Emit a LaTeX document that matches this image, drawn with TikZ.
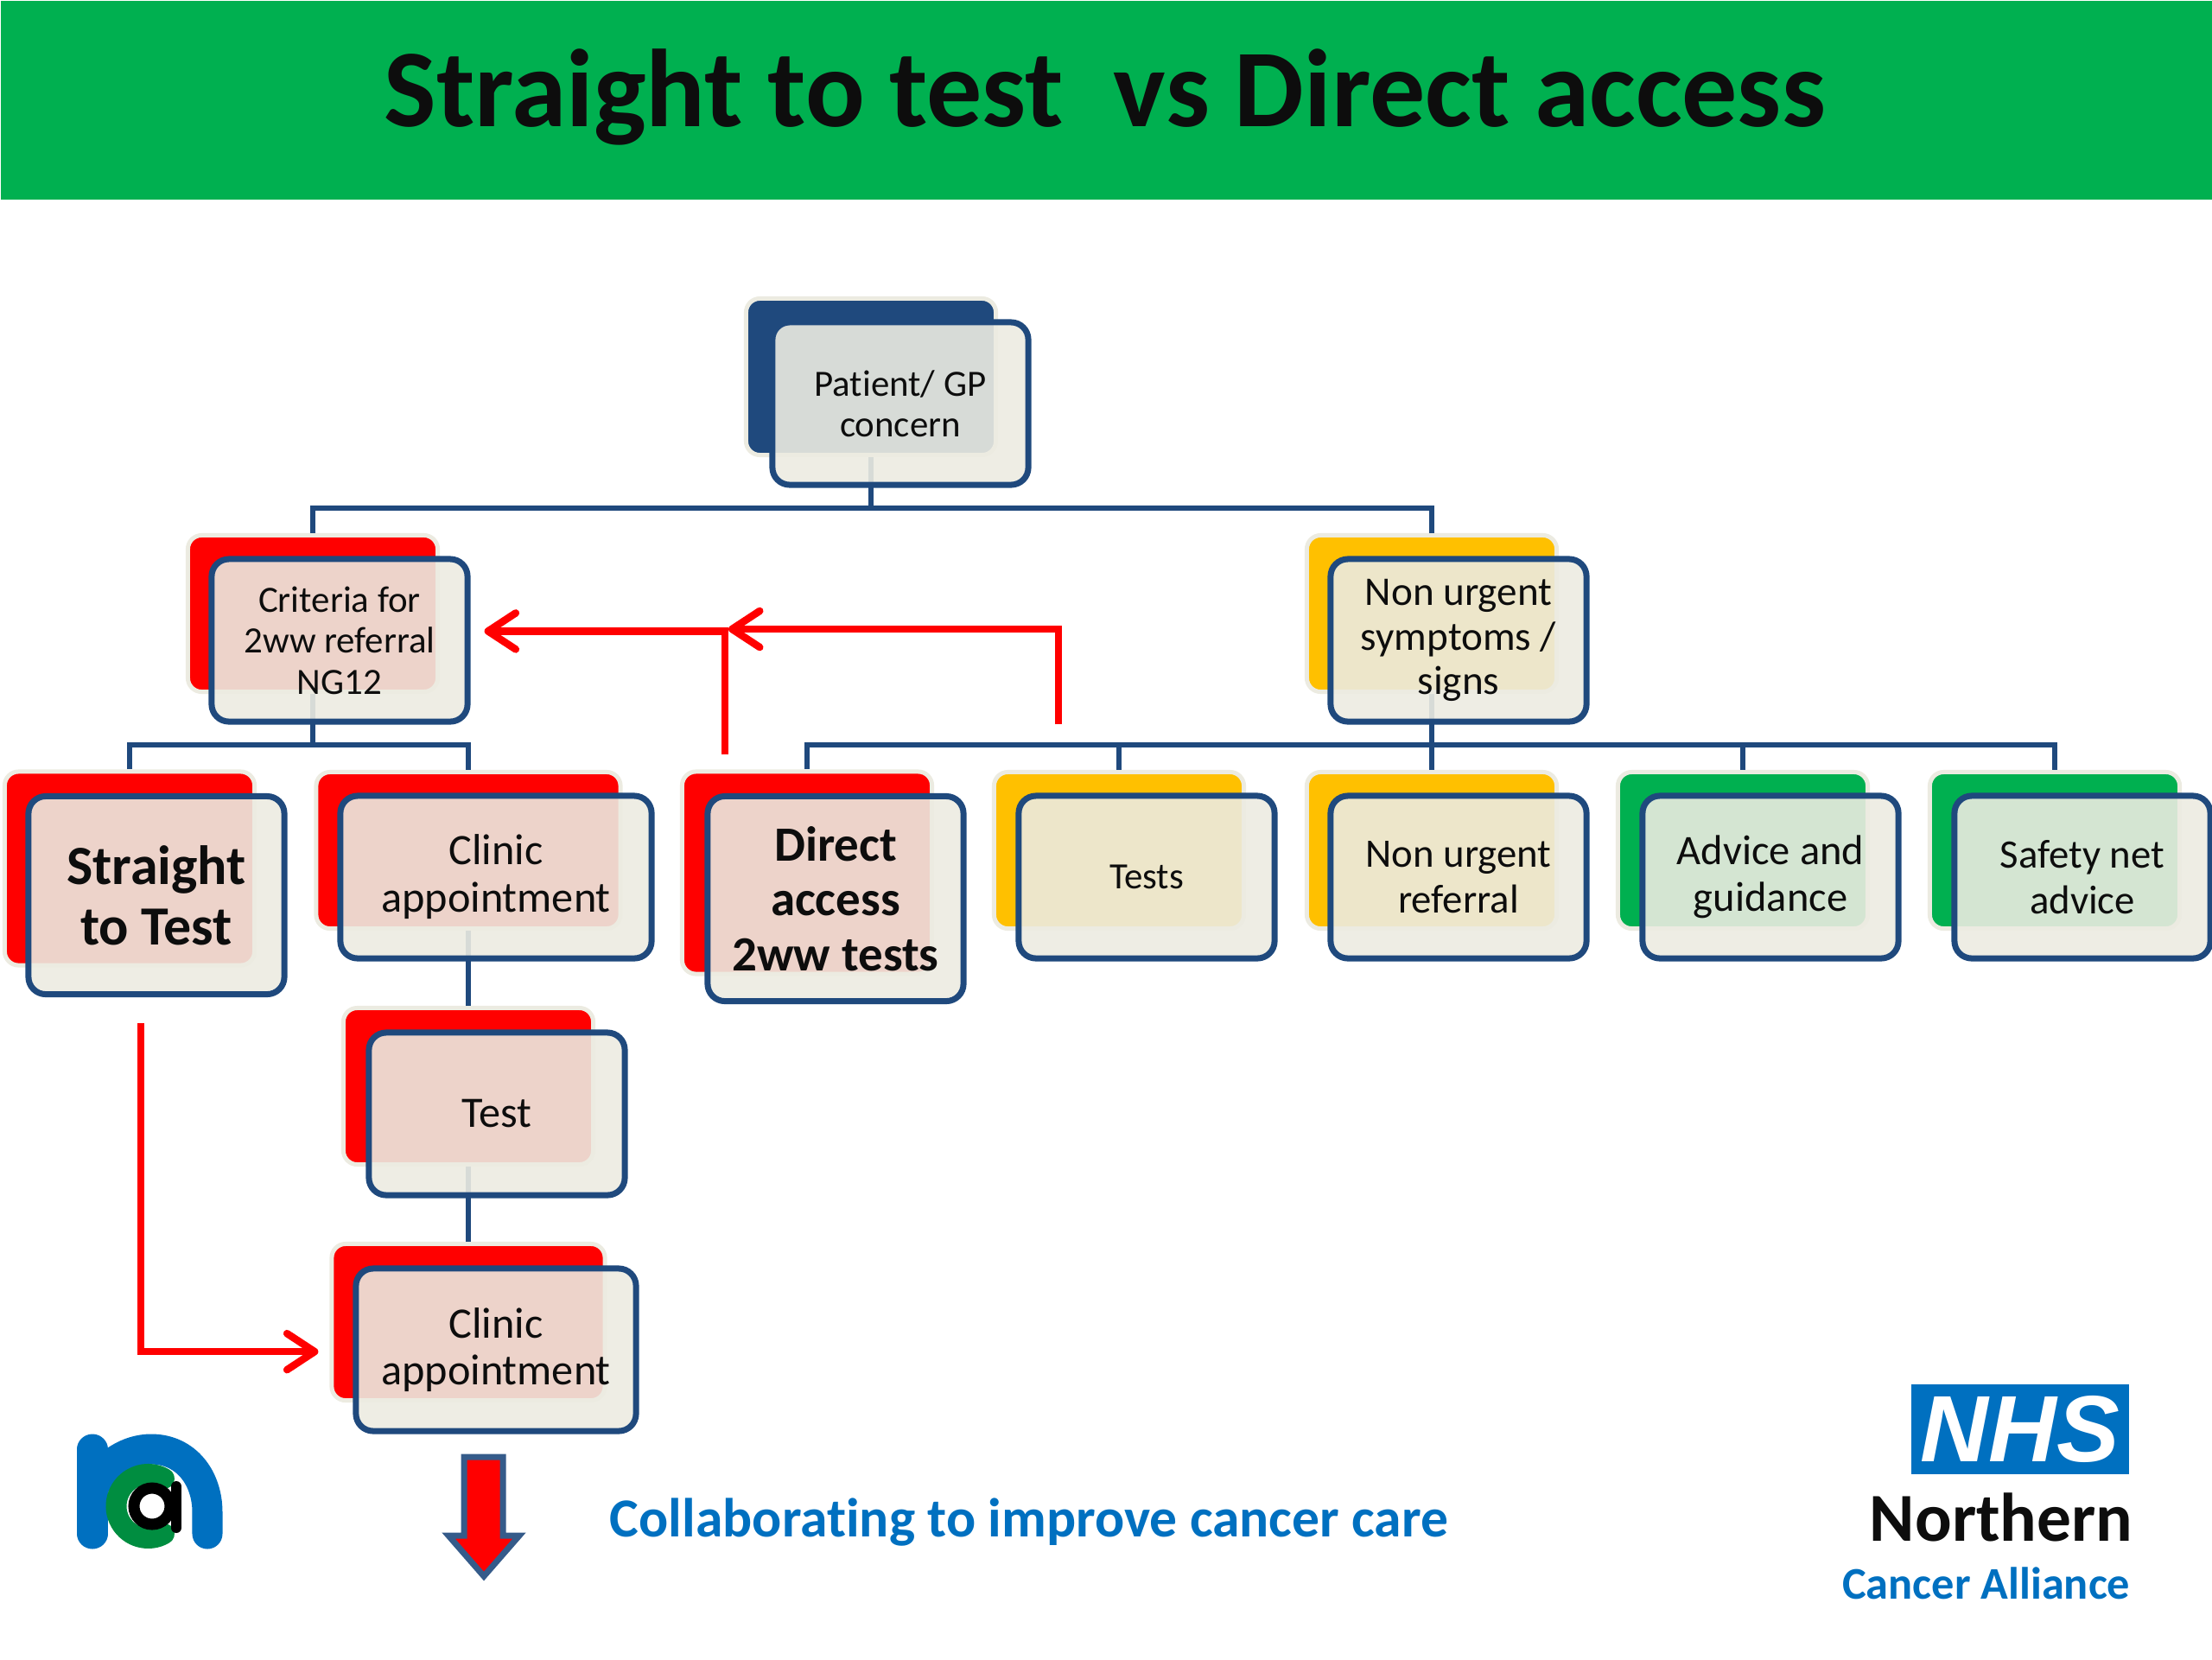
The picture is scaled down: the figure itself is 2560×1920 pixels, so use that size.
\documentclass[tikz,border=0pt]{standalone}
\usepackage{fontspec}
\usepackage{tikz}
\setmainfont{Carlito}[Ligatures=NoCommon]
\newfontfamily\nhsfont{Liberation Sans}
\usetikzlibrary{arrows.meta, positioning}
\definecolor{navy}{HTML}{1F497D}
\definecolor{cream}{HTML}{ECEBE1}
\definecolor{nhsred}{HTML}{FF0000}
\definecolor{amber}{HTML}{FFC000}
\definecolor{nhsgreen}{HTML}{00B050}
\definecolor{nhsblue}{HTML}{0070C0}
\definecolor{inkblack}{HTML}{0D0D0D}

\begin{document}
\begin{tikzpicture}[
    x=0.01cm, y=-0.01cm,
    every node/.style={font=\normalfont, text=inkblack},
    backbox/.style={rectangle, rounded corners=0.16cm, draw=cream, line width=0.05cm, fill=#1, minimum width=2.89cm, minimum height=1.81cm},
    frontbox/.style={rectangle, rounded corners=0.2cm, draw=navy, line width=0.07cm, fill=cream, fill opacity=0.9, text opacity=1, align=center, minimum width=2.96cm, minimum height=1.88cm},
    smalltext/.style={font=\fontsize{12.2}{13.5}\selectfont},
    midtext/.style={font=\fontsize{13.3}{15}\selectfont},
    largetext/.style={font=\fontsize{13.4}{14.6}\selectfont},
    clinictext/.style={font=\fontsize{14.3}{15.6}\selectfont},
    link/.style={draw=navy, line width=0.055cm},
    redline/.style={draw=nhsred, line width=0.085cm, -{Straight Barb[length=0.32cm, width=0.42cm, round]}},
]
\useasboundingbox (0,0) rectangle (2560,1920);
\node[rectangle, fill=nhsgreen, minimum width=25.6cm, minimum height=2.3cm, anchor=north west] (banner) at (0,0) {};
\node[font=\fontsize{36.4}{44}\bfseries\selectfont] (title) at (1279,112) {Straight to test\ \ vs Direct access};

% back plates
\node[backbox=navy] (patientback) at (1008,436) {};
\node[backbox=nhsred] (criteriaback) at (362,710) {};
\node[backbox=amber] (symptomsback) at (1657,710) {};
\node[backbox=nhsred, minimum height=2.24cm] (straightback) at (150,1005) {};
\node[backbox=nhsred, minimum width=3.52cm] (clinicback) at (542,984) {};
\node[backbox=nhsred, minimum height=2.34cm] (directback) at (934,1010) {};
\node[backbox=amber] (testsback) at (1295,984) {};
\node[backbox=amber] (referralback) at (1657,984) {};
\node[backbox=nhsgreen] (adviceback) at (2017,984) {};
\node[backbox=nhsgreen] (safetyback) at (2378,984) {};
\node[backbox=nhsred] (testback) at (542,1257) {};
\node[backbox=nhsred, minimum width=3.16cm] (secondclinicback) at (542,1530) {};

% tree lines
\draw[link] (patientback.south) -- ++(0,59) -| (criteriaback.north);
\draw[link] (patientback.south) -- ++(0,59) -| (symptomsback.north);
\draw[link] (criteriaback.south) -- ++(0,59) -| (straightback.north);
\draw[link] (criteriaback.south) -- ++(0,59) -| (clinicback.north);
\foreach \kid in {directback,testsback,referralback,adviceback,safetyback} {
    \draw[link] (symptomsback.south) -- ++(0,59) -| (\kid.north);
}
\draw[link] (clinicback.south) -- (testback.north);
\draw[link] (testback.south) -- (secondclinicback.north);

\node[frontbox, smalltext] (patient) at (1042,467) {Patient/ GP\\concern};
\node[frontbox, smalltext] (criteria) at (393,741) {Criteria for\\2ww referral\\NG12};
\node[frontbox, largetext] (symptoms) at (1688,741) {Non urgent\\symptoms /\\signs};
\node[frontbox, minimum height=2.29cm, font=\fontsize{18.2}{20}\bfseries\selectfont] (straight) at (181,1036) {Straight\\to Test};
\node[frontbox, minimum width=3.60cm, clinictext] (clinic) at (574,1015) {Clinic\\appointment};
\node[frontbox, minimum height=2.37cm, font=\fontsize{16.2}{18}\bfseries\selectfont] (direct) at (967,1040) {Direct\\access\\2ww tests};
\node[frontbox, smalltext] (tests) at (1327,1015) {Tests};
\node[frontbox, midtext] (referral) at (1688,1015) {Non urgent\\referral};
\node[frontbox, font=\fontsize{13.8}{15.4}\selectfont] (advice) at (2049,1015) {Advice and\\guidance};
\node[frontbox, midtext] (safety) at (2410,1015) {Safety net\\advice};
\node[frontbox, clinictext] (test) at (575,1289) {Test};
\node[frontbox, minimum width=3.24cm, clinictext] (secondclinic) at (574,1562) {Clinic\\appointment};

% red arrows
\coordinate (directout) at (839,873);
\coordinate (testsout) at (1225,838);
\coordinate (junction) at (843,728);
\coordinate (straightout) at (163,1184);
\draw[redline, shorten >=0.16cm] (directout) |- (criteria.4);
\draw[redline] (testsout) |- (junction);
\draw[redline, shorten >=0.13cm] (straightout) |- (secondclinicback.192);
\draw[fill=nhsred, draw=navy!90, line width=0.07cm] (537,1686) -- (582,1686) -- (582,1777) -- (601,1777) -- (560,1824) -- (519,1777) -- (537,1777) -- cycle;

% logos and strapline
\draw[draw=nhsblue, line width=0.35cm, line cap=round] (107,1677) -- (107,1775);
\draw[draw=nhsblue, line width=0.35cm, line cap=round] (107,1725) .. controls (120,1692) and (150,1677) .. (175,1677) .. controls (215,1677) and (240,1710) .. (240,1750) -- (240,1775);
\draw[draw=nhsgreen!80!black, line width=0.24cm, line cap=round] (190,1775) arc[start angle=60, end angle=300, radius=37];
\draw[draw=black, fill=white, line width=0.13cm] (176,1743) circle[radius=21];
\draw[draw=black, line width=0.12cm, line cap=round] (204,1720) -- (204,1768);
\node[font=\fontsize{18.1}{20}\bfseries\selectfont, text=nhsblue] (strapline) at (1191,1762) {Collaborating to improve cancer care};
\node[rectangle, fill=nhsblue, text=white, minimum width=2.52cm, minimum height=1.03cm, inner sep=0pt, font=\fontsize{31}{34}\nhsfont\bfseries\itshape\selectfont] (nhs) at (2338,1654) {NHS};
\node[anchor=east, inner sep=0pt, font=\fontsize{22.6}{24}\bfseries\selectfont] (northern) at (2469,1756) {Northern};
\node[anchor=east, inner sep=0pt, text=nhsblue, font=\fontsize{14.9}{16}\bfseries\selectfont] (alliance) at (2466,1832) {Cancer Alliance};
\end{tikzpicture}
\end{document}
